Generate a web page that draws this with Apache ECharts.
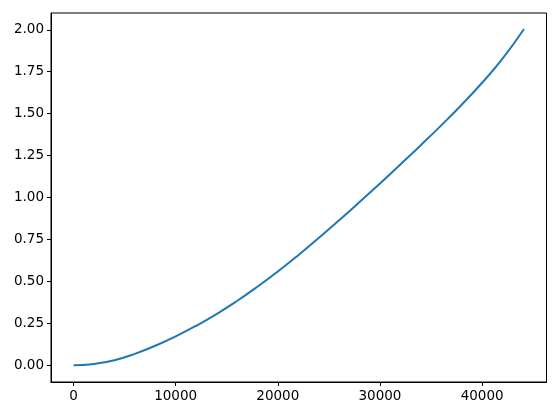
<!DOCTYPE html>
<html>
<head>
<meta charset="utf-8">
<script src="https://cdn.jsdelivr.net/npm/echarts@6/dist/echarts.min.js"></script>
<style>html,body{margin:0;padding:0;background:#fff;}#c{width:559px;height:416px;}</style>
</head>
<body>
<div id="c"></div>
<script>
const xValues = [0, 2000, 4000, 6000, 8000, 10000, 12000, 14000, 16000, 18000, 20000, 22000, 24000, 26000, 28000, 30000, 32000, 34000, 36000, 38000, 40000, 42000, 44100];
const yValues = [0, 0.008, 0.03, 0.068, 0.116, 0.172, 0.235, 0.305, 0.383, 0.468, 0.559, 0.656, 0.758, 0.864, 0.973, 1.084, 1.197, 1.312, 1.43, 1.553, 1.684, 1.828, 2.005];
const xTicks = [0, 10000, 20000, 30000, 40000];
const yTicks = [0, 0.25, 0.5, 0.75, 1.0, 1.25, 1.5, 1.75, 2.0];

const chart = echarts.init(document.getElementById('c'), null, {renderer: 'canvas'});
const font = {fontFamily: 'DejaVu Sans', fontSize: 13.5, color: '#000'};
chart.setOption({
  animation: false,
  backgroundColor: '#fff',
  grid: {left: 51, right: 12.5, top: 13, bottom: 34, show: true, borderColor: '#000', borderWidth: 1, backgroundColor: 'transparent'},
  xAxis: {
    type: 'value', min: -2205, max: 46305,
    axisLine: {show: true, onZero: false, lineStyle: {color: '#000', width: 1}},
    axisTick: {show: true, length: 4, customValues: xTicks, lineStyle: {color: '#000'}},
    axisLabel: Object.assign({customValues: xTicks, margin: 7, formatter: v => String(v)}, font),
    splitLine: {show: false}
  },
  yAxis: {
    type: 'value', min: -0.1, max: 2.1,
    axisLine: {show: true, onZero: false, lineStyle: {color: '#000', width: 1}},
    axisTick: {show: true, length: 4, customValues: yTicks, lineStyle: {color: '#000'}},
    axisLabel: Object.assign({customValues: yTicks, margin: 7, formatter: v => v.toFixed(2)}, font),
    splitLine: {show: false}
  },
  series: [{
    type: 'line',
    data: xValues.map((x, i) => [x, yValues[i]]),
    smooth: true,
    showSymbol: false,
    lineStyle: {color: '#1f77b4', width: 2}
  }]
});
</script>
</body>
</html>
